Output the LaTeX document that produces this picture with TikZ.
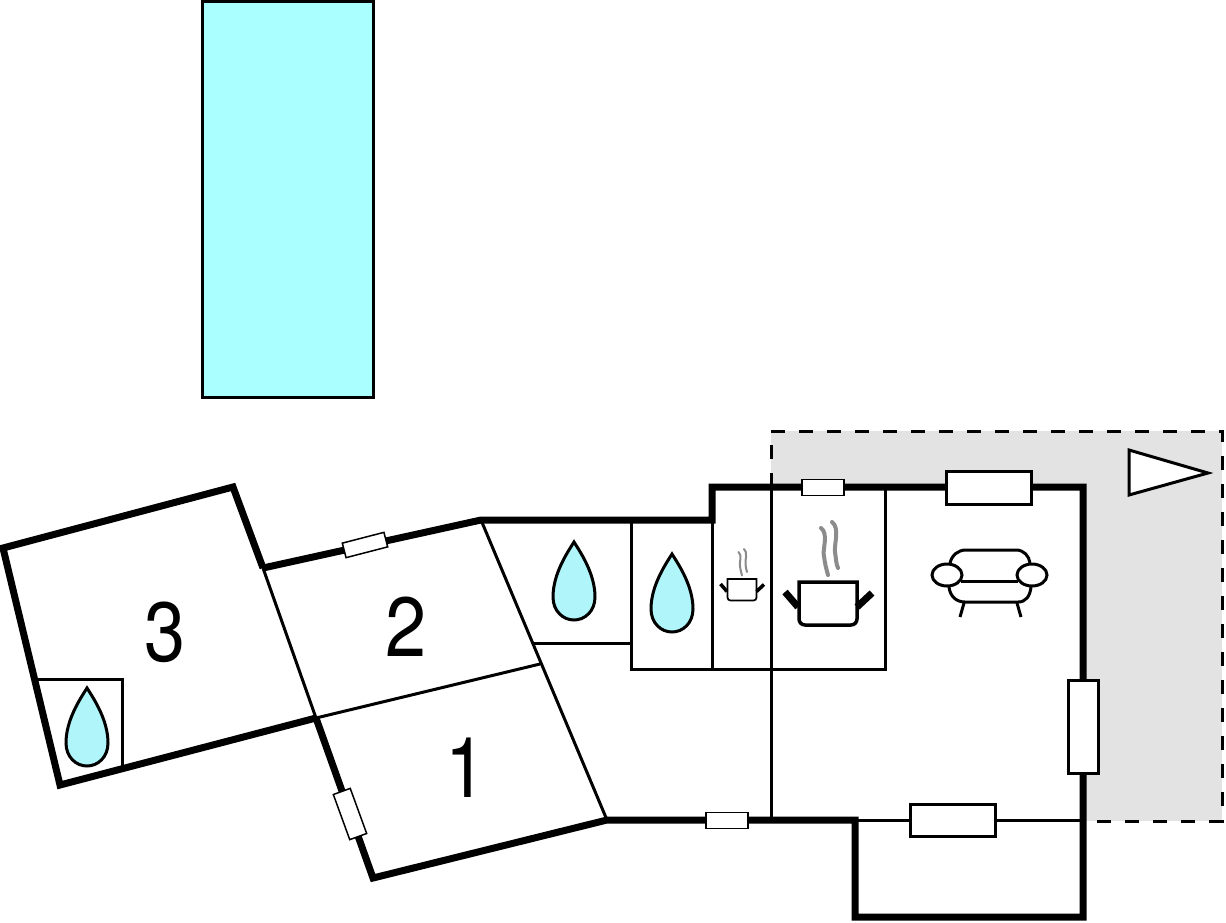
\documentclass[tikz,border=0pt]{standalone}
\usepackage{fontspec}
\setmainfont{TeX Gyre Heros}
\definecolor{poolcyan}{RGB}{170, 255, 255}
\definecolor{dropcyan}{RGB}{175, 245, 250}
\definecolor{terracegray}{RGB}{227, 227, 227}
\definecolor{steamgray}{RGB}{140, 140, 140}
\tikzset{
  wallthick/.style={line width=7pt, line cap=butt, line join=miter},
  wallthin/.style={line width=3pt},
  windowbox/.style={draw, fill=white, inner sep=0pt, line width=#1},
  roomnum/.style={font=\fontsize{84}{84}\selectfont, inner sep=0pt, xscale=0.88},
  pics/waterdrop/.style={code={
    \draw[fill=dropcyan, line width=3pt] (0,0) .. controls (7,11) and (21,32) .. (21,55)
      .. controls (21,69) and (11,78) .. (0,78) .. controls (-11,78) and (-21,69) .. (-21,55)
      .. controls (-21,32) and (-7,11) .. (0,0) -- cycle;
  }},
  pics/cookpot/.style={code={
    \draw[fill=white, line width=#1*3.5pt] (-29,0) -- (29,0) [rounded corners=#1*6pt] -- (29,43) -- (-29,43) [sharp corners] -- cycle;
    \draw[line width=#1*7pt] (-30,25) -- (-43,10);
    \draw[line width=#1*7pt] (29,25) -- (44,11);
    \draw[steamgray, line width=#1*4pt, line cap=round] (-7,-54) .. controls (1,-48) and (-6,-32) .. (-4,-26) .. controls (-3,-18) and (-2,-14) .. (0,-7);
    \draw[steamgray, line width=#1*4pt, line cap=round] (4,-60) .. controls (12,-54) and (6,-38) .. (7,-30) .. controls (8,-24) and (8,-18) .. (10,-14);
  }},
}
\begin{document}
\begin{tikzpicture}[x=1pt, y=-1pt]
  \useasboundingbox (0,0) rectangle (1226,922);

  % Pool
  \draw[fill=poolcyan, line width=3pt] (202,1) rectangle (373,397);

  % Terrace
  \fill[terracegray] (771,431) rectangle (1222,821);
  \draw[line width=3pt, dash pattern=on 14pt off 14pt] (771,487) -- (771,431) -- (1222,431) -- (1222,821) -- (1083,821);

  % White floor of the house
  \fill[white] (712,487) -- (1083,487) -- (1083,917) -- (855,917) -- (855,820) -- (712,820) -- cycle;

  % Inner walls
  \draw[wallthin] (263,568) -- (316,718);
  \draw[wallthin] (316,718) -- (540,664);
  \draw[wallthin] (481,520) -- (607,820);
  \draw[wallthin] (533,643) -- (631,643);
  \draw[wallthin] (631,520) -- (631,669) -- (885,669) -- (885,487);
  \draw[wallthin] (712,520) -- (712,669);
  \draw[wallthin] (771,487) -- (771,820);
  \draw[wallthin] (855,820) -- (1083,820);
  \draw[wallthin] (38,679) -- (122,679) -- (122,768);

  % Outer walls
  \draw[wallthick] (263,568) -- (233,487) -- (3,548) -- (60,785) -- (316,718);
  \draw[wallthick] (316,718) -- (373,878) -- (607,820) -- (855,820) -- (855,917) -- (1083,917) -- (1083,487) -- (712,487) -- (712,520) -- (481,520) -- (263,568);

  % Windows
  \node[windowbox=1.5pt, minimum width=43pt, minimum height=15pt, rotate=14.5] (winroomtwo) at (365,545) {};
  \node[windowbox=1.5pt, minimum width=48pt, minimum height=18pt, rotate=-70] (winroomone) at (350,814) {};
  \node[windowbox=1.5pt, minimum width=42pt, minimum height=16pt] (winsouth) at (727,820.5) {};
  \node[windowbox=1.5pt, minimum width=42pt, minimum height=16pt] (winkitchen) at (823,487.5) {};
  \node[windowbox=3pt, minimum width=85pt, minimum height=33pt] (wintop) at (988.5,487.5) {};
  \node[windowbox=3pt, minimum width=30pt, minimum height=93pt] (winright) at (1083,726.5) {};
  \node[windowbox=3pt, minimum width=85pt, minimum height=32pt] (winbottom) at (953,820.5) {};

  % Room numbers
  \node[roomnum] (numthree) at (165,632) {3};
  \node[roomnum] (numtwo) at (406,627) {2};
  \node[roomnum] (numone) at (466,768) {1};

  % Bathrooms
  \pic at (574,542) {waterdrop};
  \pic at (672,554) {waterdrop};
  \pic at (87,688) {waterdrop};

  % Kitchens
  \pic at (828,582) {cookpot=1};
  \pic[scale=0.5] at (742,579) {cookpot=0.5};

  % Armchair
  \draw[line width=3pt] (950,563) .. controls (952,555) and (958,550) .. (966,550) -- (1016,550) .. controls (1024,550) and (1029,556) .. (1030,563);
  \draw[line width=3pt] (949,587) .. controls (950,596) and (956,602) .. (965,602) -- (1018,602) .. controls (1026,602) and (1030,596) .. (1031,587);
  \draw[line width=3pt] (961,581) -- (1018,581);
  \draw[line width=3pt] (947,575) ellipse [x radius=15pt, y radius=11pt];
  \draw[line width=3pt] (1032,575) ellipse [x radius=15pt, y radius=11pt];
  \draw[line width=3pt] (964,603) -- (960,617);
  \draw[line width=3pt] (1017,603) -- (1021,617);

  % North arrow
  \draw[fill=white, line width=3pt] (1129,450) -- (1208,473) -- (1129,495) -- cycle;
\end{tikzpicture}
\end{document}
